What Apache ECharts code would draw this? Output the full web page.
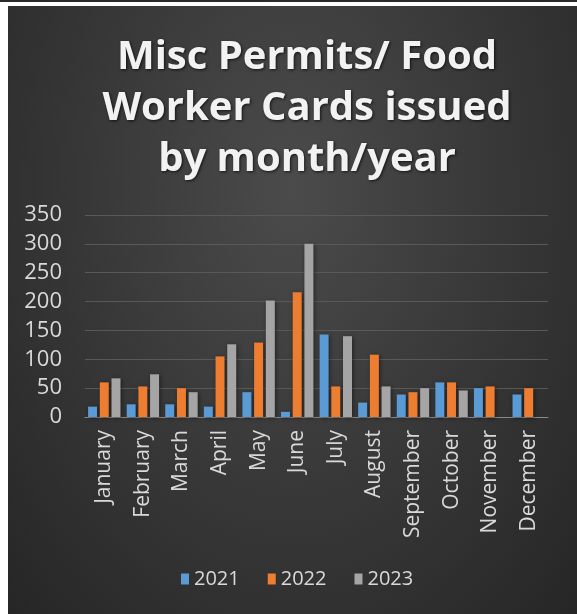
<!DOCTYPE html>
<html>
<head>
<meta charset="utf-8">
<script src="https://cdn.jsdelivr.net/npm/echarts@6/dist/echarts.min.js"></script>
<style>
  html, body { margin: 0; padding: 0; width: 577px; height: 614px; background: #ffffff; overflow: hidden; }
  #topstrip { position: absolute; left: 0; top: 0; width: 577px; height: 2px; background: #2a2a2a; }
  #chart { position: absolute; left: 8px; top: 6px; width: 569px; height: 608px;
    background: radial-gradient(ellipse at 50% 30%, #4b4b4b 0%, #3a3a3a 45%, #262626 100%); }
</style>
</head>
<body>
<div id="topstrip"></div>
<div id="chart"></div>
<script>
const months = ['January','February','March','April','May','June','July','August','September','October','November','December'];
const years = ['2021','2022','2023'];
const v2021 = [18, 22, 22, 18, 43, 9, 143, 25, 39, 60, 50, 39];
const v2022 = [60, 53, 50, 105, 129, 216, 53, 108, 43, 60, 53, 50];
const v2023 = [67, 74, 43, 126, 202, 300, 140, 53, 50, 46, null, null];
const yTicks = [0, 50, 100, 150, 200, 250, 300, 350];
const colors = ['#5b9bd5', '#ed7d31', '#a5a5a5'];

const chart = echarts.init(document.getElementById('chart'), null, { renderer: 'canvas' });
const font = '"Open Sans", Calibri, sans-serif';
function mk(name, data, color) {
  return {
    name: name, type: 'bar', data: data, barWidth: 9, barGap: '30%',
    itemStyle: { color: color, shadowColor: 'rgba(0,0,0,0.5)', shadowBlur: 4, shadowOffsetX: 1, shadowOffsetY: 1 }
  };
}
chart.setOption({
  backgroundColor: 'transparent',
  animation: false,
  textStyle: { fontFamily: font },
  title: {
    text: 'Misc Permits/ Food\nWorker Cards issued\nby month/year',
    left: 294, top: 21, textAlign: 'center',
    textStyle: {
      color: '#f2f2f2', fontSize: 40, fontWeight: 'bold', lineHeight: 51, fontFamily: font,
      textShadowColor: 'rgba(0,0,0,0.7)', textShadowBlur: 3, textShadowOffsetX: 1, textShadowOffsetY: 1
    }
  },
  legend: {
    data: years, bottom: 20, left: 168, itemWidth: 8, itemHeight: 11, itemGap: 28,
    icon: 'rect',
    textStyle: { color: '#d9d9d9', fontSize: 20, fontFamily: font }
  },
  grid: { left: 77, right: 29, top: 209, bottom: 197, containLabel: false },
  xAxis: {
    type: 'category', data: months,
    axisLine: { lineStyle: { color: '#8a8a8a', width: 1 } },
    axisTick: { show: false },
    axisLabel: { rotate: 90, color: '#d9d9d9', fontSize: 21, margin: 13, interval: 0 }
  },
  yAxis: {
    type: 'value', min: 0, max: 350, interval: 50,
    axisLine: { show: false }, axisTick: { show: false },
    splitLine: { lineStyle: { color: '#595959', width: 1 } },
    axisLabel: { color: '#d9d9d9', fontSize: 22, margin: 23,
      formatter: function (v) { return yTicks.indexOf(v) >= 0 ? String(v) : ''; } }
  },
  series: [mk(years[0], v2021, colors[0]), mk(years[1], v2022, colors[1]), mk(years[2], v2023, colors[2])]
});
</script>
</body>
</html>
